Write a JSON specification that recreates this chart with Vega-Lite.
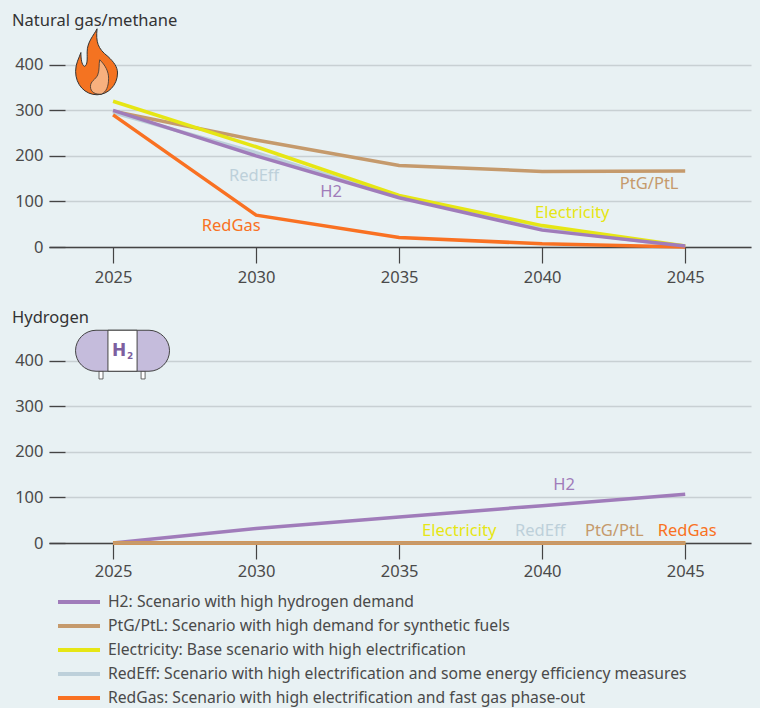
{
"$schema":"https://vega.github.io/schema/vega-lite/v6.json",
"background":"#e8f1f3",
"padding":{"left":0,"top":13,"right":9,"bottom":2},
"bounds":"flush",
"spacing":91,
"resolve":{"scale":{"color":"independent"},"legend":{"color":"independent"}},
"config":{"view":{"stroke":null},"font":"Noto Sans","axis":{"title":null,"labelFont":"Noto Sans","labelFontSize":16.5,"labelColor":"#4a4a4a"},"title":{"font":"Noto Sans","fontSize":16.5,"fontWeight":"normal","color":"#333333"}},
"vconcat":[
{"width":702,"height":205,
"title":{"text":"Natural gas/methane","anchor":"start","frame":"group","dx":-37,"offset":-3},
"layer":[
{"data":{"values":[
{"year":2025,"scenario":"PtG/PtL","value":298},{"year":2030,"scenario":"PtG/PtL","value":235},{"year":2035,"scenario":"PtG/PtL","value":179},{"year":2040,"scenario":"PtG/PtL","value":166},{"year":2045,"scenario":"PtG/PtL","value":167},
{"year":2025,"scenario":"RedEff","value":295},{"year":2030,"scenario":"RedEff","value":207},{"year":2035,"scenario":"RedEff","value":110},{"year":2040,"scenario":"RedEff","value":40},{"year":2045,"scenario":"RedEff","value":1},
{"year":2025,"scenario":"Electricity","value":320},{"year":2030,"scenario":"Electricity","value":220},{"year":2035,"scenario":"Electricity","value":113},{"year":2040,"scenario":"Electricity","value":47},{"year":2045,"scenario":"Electricity","value":2},
{"year":2025,"scenario":"RedGas","value":290},{"year":2030,"scenario":"RedGas","value":70},{"year":2035,"scenario":"RedGas","value":21},{"year":2040,"scenario":"RedGas","value":7},{"year":2045,"scenario":"RedGas","value":0},
{"year":2025,"scenario":"H2","value":300},{"year":2030,"scenario":"H2","value":200},{"year":2035,"scenario":"H2","value":108},{"year":2040,"scenario":"H2","value":37},{"year":2045,"scenario":"H2","value":2}
]},
"mark":{"type":"line","strokeWidth":3.5,"clip":false},
"encoding":{
"x":{"field":"year","type":"quantitative","scale":{"domain":[2022.76,2047.3],"nice":false,"zero":false},"axis":{"values":[2025,2030,2035,2040,2045],"format":"d","grid":false,"domainColor":"#444444","domainWidth":1.3,"tickColor":"#444444","tickSize":16,"tickWidth":1.2,"labelPadding":6}},
"y":{"field":"value","type":"quantitative","scale":{"domain":[0,450],"nice":false},"axis":{"values":[0,100,200,300,400],"domain":false,"grid":true,"gridColor":"#c8d0d3","gridWidth":1.5,"tickColor":"#444444","tickSize":-16,"tickWidth":1.3,"labelPadding":22,"minExtent":49,"maxExtent":49}},
"color":{"field":"scenario","type":"nominal","legend":null,"scale":{"domain":["H2","PtG/PtL","Electricity","RedEff","RedGas"],"range":["#a07cba","#c59a6c","#e6e614","#bdd0da","#f97122"]}}
}},
{"data":{"values":[
{"year":2029.93,"value":156,"label":"RedEff"},{"year":2032.62,"value":121,"label":"H2"},{"year":2029.13,"value":46,"label":"RedGas"},{"year":2043.74,"value":138,"label":"PtG/PtL"},{"year":2041.05,"value":75,"label":"Electricity"}
]},
"mark":{"type":"text","fontSize":16.5,"baseline":"middle","align":"center"},
"encoding":{
"x":{"field":"year","type":"quantitative"},
"y":{"field":"value","type":"quantitative"},
"text":{"field":"label"},
"color":{"field":"label","type":"nominal","legend":null,"scale":{"domain":["H2","PtG/PtL","Electricity","RedEff","RedGas"],"range":["#a07cba","#c59a6c","#e6e614","#bdd0da","#f97122"]}}
}},
{"data":{"values":[{"icon":"flame"}]},
"mark":{"type":"point","shape":"M0,-1 C-0.1,-0.8 -0.3,-0.6 -0.3,-0.3 C-0.3,-0.1 -0.28,0.1 -0.38,0.14 C-0.47,0.1 -0.49,-0.1 -0.49,-0.28 C-0.55,-0.1 -0.65,0.05 -0.65,0.29 C-0.65,0.7 -0.36,1 0,1 C0.32,1 0.62,0.72 0.62,0.34 C0.62,0.15 0.5,0 0.33,-0.16 C0.02,-0.4 -0.04,-0.6 0,-1 Z","size":4356,"filled":true,"fill":"#f47321","stroke":"#333333","strokeWidth":1,"opacity":1},
"encoding":{"x":{"datum":2024.44,"type":"quantitative"},"y":{"datum":406.6,"type":"quantitative"}}},
{"data":{"values":[{"icon":"flame inner"}]},
"mark":{"type":"point","shape":"M0.08,-0.06 C0.25,0.1 0.35,0.3 0.35,0.5 C0.35,0.75 0.28,0.92 0.13,0.98 C-0.05,1 -0.2,0.92 -0.2,0.75 C-0.2,0.58 -0.05,0.55 0.02,0.4 C0.08,0.25 0.05,0.08 0.08,-0.06 Z","size":4356,"filled":true,"fill":"#f7b07e","stroke":"#333333","strokeWidth":0.8,"opacity":1},
"encoding":{"x":{"datum":2024.44,"type":"quantitative"},"y":{"datum":406.6,"type":"quantitative"}}}
]},
{"width":702,"height":205,
"title":{"text":"Hydrogen","anchor":"start","frame":"group","dx":-37,"offset":2},
"layer":[
{"data":{"values":[
{"year":2025,"scenario":"H2","value":0},{"year":2030,"scenario":"H2","value":32},{"year":2035,"scenario":"H2","value":57},{"year":2040,"scenario":"H2","value":82},{"year":2045,"scenario":"H2","value":107},
{"year":2025,"scenario":"RedEff","value":0},{"year":2030,"scenario":"RedEff","value":0},{"year":2035,"scenario":"RedEff","value":0},{"year":2040,"scenario":"RedEff","value":0},{"year":2045,"scenario":"RedEff","value":0},
{"year":2025,"scenario":"Electricity","value":0},{"year":2030,"scenario":"Electricity","value":0},{"year":2035,"scenario":"Electricity","value":0},{"year":2040,"scenario":"Electricity","value":0},{"year":2045,"scenario":"Electricity","value":0},
{"year":2025,"scenario":"RedGas","value":0},{"year":2030,"scenario":"RedGas","value":0},{"year":2035,"scenario":"RedGas","value":0},{"year":2040,"scenario":"RedGas","value":0},{"year":2045,"scenario":"RedGas","value":0},
{"year":2025,"scenario":"PtG/PtL","value":0},{"year":2030,"scenario":"PtG/PtL","value":0},{"year":2035,"scenario":"PtG/PtL","value":0},{"year":2040,"scenario":"PtG/PtL","value":0},{"year":2045,"scenario":"PtG/PtL","value":0}
]},
"mark":{"type":"line","strokeWidth":3.5,"clip":false},
"encoding":{
"x":{"field":"year","type":"quantitative","scale":{"domain":[2022.76,2047.3],"nice":false,"zero":false},"axis":{"values":[2025,2030,2035,2040,2045],"format":"d","grid":false,"domainColor":"#444444","domainWidth":1.3,"tickColor":"#444444","tickSize":16,"tickWidth":1.2,"labelPadding":4}},
"y":{"field":"value","type":"quantitative","scale":{"domain":[0,450],"nice":false},"axis":{"values":[0,100,200,300,400],"domain":false,"grid":true,"gridColor":"#c8d0d3","gridWidth":1.5,"tickColor":"#444444","tickSize":-16,"tickWidth":1.3,"labelPadding":22,"minExtent":49,"maxExtent":49}},
"color":{"field":"scenario","type":"nominal","scale":{"domain":["H2","PtG/PtL","Electricity","RedEff","RedGas"],"range":["#a07cba","#c59a6c","#e6e614","#bdd0da","#f97122"]},
"legend":{"title":null,"orient":"none","legendX":7,"legendY":254,"symbolType":"stroke","symbolSize":1764,"symbolStrokeWidth":4,"symbolOpacity":1,"labelOffset":6,"labelFont":"Noto Sans","labelFontSize":15.7,"labelColor":"#4a4a4a","labelLimit":680,"rowPadding":4,"clipHeight":20,"columns":1,
"labelExpr":"{'H2':'H2: Scenario with high hydrogen demand','PtG/PtL':'PtG/PtL: Scenario with high demand for synthetic fuels','Electricity':'Electricity: Base scenario with high electrification','RedEff':'RedEff: Scenario with high electrification and some energy efficiency measures','RedGas':'RedGas: Scenario with high electrification and fast gas phase-out'}[datum.label]"}}
}},
{"data":{"values":[
{"year":2040.77,"value":127.5,"label":"H2"},{"year":2037.1,"value":26,"label":"Electricity"},{"year":2039.93,"value":26,"label":"RedEff"},{"year":2042.52,"value":26,"label":"PtG/PtL"},{"year":2045.07,"value":26,"label":"RedGas"}
]},
"mark":{"type":"text","fontSize":16.5,"baseline":"middle","align":"center"},
"encoding":{
"x":{"field":"year","type":"quantitative"},
"y":{"field":"value","type":"quantitative"},
"text":{"field":"label"},
"color":{"field":"label","type":"nominal","legend":null,"scale":{"domain":["H2","PtG/PtL","Electricity","RedEff","RedGas"],"range":["#a07cba","#c59a6c","#e6e614","#bdd0da","#f97122"]}}
}},
{"data":{"values":[{"icon":"tank legs"}]},
"mark":{"type":"point","shape":"M-0.5,0.43 L-0.415,0.43 L-0.415,0.6 L-0.5,0.6 Z M0.395,0.43 L0.48,0.43 L0.48,0.6 L0.395,0.6 Z","size":8836,"filled":true,"fill":"#ffffff","stroke":"#444444","strokeWidth":0.8,"opacity":1},
"encoding":{"x":{"datum":2025.33,"type":"quantitative"},"y":{"datum":422,"type":"quantitative"}}},
{"data":{"values":[{"icon":"tank"}]},
"mark":{"type":"point","shape":"M-0.564,-0.436 L0.564,-0.436 C0.8,-0.436 1,-0.24 1,0 C1,0.24 0.8,0.436 0.564,0.436 L-0.564,0.436 C-0.8,0.436 -1,0.24 -1,0 C-1,-0.24 -0.8,-0.436 -0.564,-0.436 Z","size":8836,"filled":true,"fill":"#c5bcdc","stroke":"#444444","strokeWidth":1,"opacity":1},
"encoding":{"x":{"datum":2025.33,"type":"quantitative"},"y":{"datum":422,"type":"quantitative"}}},
{"data":{"values":[{"icon":"tank centre"}]},
"mark":{"type":"point","shape":"M-0.31,-0.436 L0.31,-0.436 L0.31,0.436 L-0.31,0.436 Z","size":8836,"filled":true,"fill":"#ffffff","stroke":"#444444","strokeWidth":1,"opacity":1},
"encoding":{"x":{"datum":2025.33,"type":"quantitative"},"y":{"datum":422,"type":"quantitative"}}},
{"data":{"values":[{"t":"H"}]},
"mark":{"type":"text","text":"H","font":"DejaVu Sans","fontWeight":"bold","fontSize":17,"color":"#7d5fa0","baseline":"middle","align":"center","dx":-3.5},
"encoding":{"x":{"datum":2025.33,"type":"quantitative"},"y":{"datum":422,"type":"quantitative"}}},
{"data":{"values":[{"t":"2"}]},
"mark":{"type":"text","text":"2","font":"DejaVu Sans","fontWeight":"bold","fontSize":9,"color":"#7d5fa0","baseline":"middle","align":"center","dx":7.5,"dy":5},
"encoding":{"x":{"datum":2025.33,"type":"quantitative"},"y":{"datum":422,"type":"quantitative"}}}
]}
]
}
